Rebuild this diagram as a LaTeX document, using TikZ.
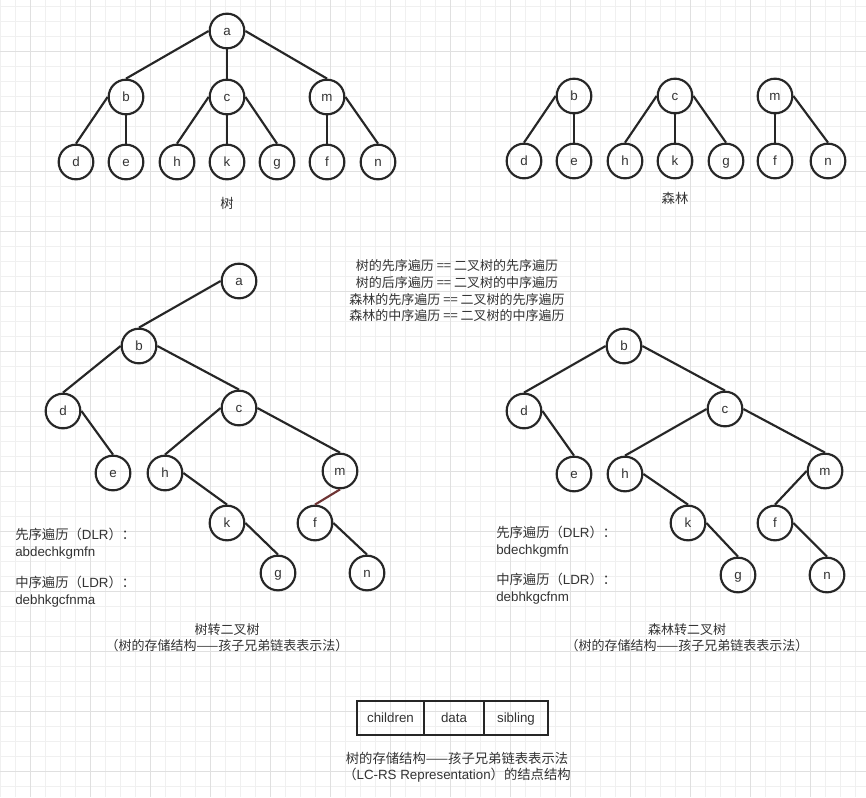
\documentclass[tikz,border=0pt]{standalone}
\usepackage{fontspec}
\setmainfont{Liberation Sans}
\newfontfamily\cjk{Noto Sans CJK SC}
\usepackage{xcolor}
\usepackage{tikz}

\definecolor{ink}{HTML}{262626}
\definecolor{txt}{HTML}{333333}
\definecolor{minorgrid}{HTML}{F0F0F0}
\definecolor{majorgrid}{HTML}{E0E0E0}
\definecolor{pick}{HTML}{6E3434}

\begin{document}
\begin{tikzpicture}[x=0.75pt, y=-0.75pt]
        \tikzstyle{place}=[circle, draw=ink, line width=1.6pt, minimum size=26pt, inner sep=0pt, text=txt, text height=8.2pt, text depth=0.8pt, font=\fontsize{10}{12}\selectfont]
        \tikzstyle{edge}=[draw=ink, line width=1.6pt]
        \tikzstyle{note}=[text=txt, inner sep=0pt, font=\fontsize{10}{12.5}\selectfont]
        \tikzstyle{cell}=[draw=ink, line width=1.6pt, minimum height=25.5pt, inner sep=0pt, text=txt, text height=8pt, text depth=1pt, font=\fontsize{10}{12}\selectfont]

        % Background grid
        \useasboundingbox (0,0) rectangle (866,797);
        \fill[white] (0,0) rectangle (866,797);
        \foreach \x in {0.5,15.5,...,855.6} \draw[minorgrid, line width=0.75pt] (\x,0) -- (\x,797);
        \foreach \y in {6.7,21.7,...,786.8} \draw[minorgrid, line width=0.75pt] (0,\y) -- (866,\y);
        \foreach \x in {30.5,90.5,...,810.6} \draw[majorgrid, line width=0.75pt] (\x,0) -- (\x,797);
        \foreach \y in {51.7,111.7,...,771.8} \draw[majorgrid, line width=0.75pt] (0,\y) -- (866,\y);

        % Tree
        \node[place] (a1) at (227,31) {a};
        \node[place] (b1) at (126,97) {b};
        \node[place] (c1) at (227,97) {c};
        \node[place] (m1) at (327,97) {m};
        \node[place] (d1) at (76,162) {d};
        \node[place] (e1) at (126,162) {e};
        \node[place] (h1) at (177,162) {h};
        \node[place] (k1) at (227,162) {k};
        \node[place] (g1) at (277,162) {g};
        \node[place] (f1) at (327,162) {f};
        \node[place] (n1) at (378,162) {n};
        \node[note, font=\cjk\fontsize{10}{12}\selectfont] (t1) at (227,203) {树};

        % Forest
        \node[place] (b2) at (574,96) {b};
        \node[place] (c2) at (675,96) {c};
        \node[place] (m2) at (775,96) {m};
        \node[place] (d2) at (524,161) {d};
        \node[place] (e2) at (574,161) {e};
        \node[place] (h2) at (625,161) {h};
        \node[place] (k2) at (675,161) {k};
        \node[place] (g2) at (726,161) {g};
        \node[place] (f2) at (775,161) {f};
        \node[place] (n2) at (828,161) {n};
        \node[note, font=\cjk\fontsize{10}{12}\selectfont] (t2) at (675,198) {森林};

        % Binary tree of the tree
        \node[place] (a3) at (239,281) {a};
        \node[place] (b3) at (139,346) {b};
        \node[place] (d3) at (63,411) {d};
        \node[place] (c3) at (239,408) {c};
        \node[place] (e3) at (113,473) {e};
        \node[place] (h3) at (165,473) {h};
        \node[place] (m3) at (340,471) {m};
        \node[place] (k3) at (227,523) {k};
        \node[place] (f3) at (315,523) {f};
        \node[place] (g3) at (278,573) {g};
        \node[place] (n3) at (367,573) {n};

        % Binary tree of the forest
        \node[place] (b4) at (624,346) {b};
        \node[place] (d4) at (524,411) {d};
        \node[place] (c4) at (725,409) {c};
        \node[place] (e4) at (574,474) {e};
        \node[place] (h4) at (625,474) {h};
        \node[place] (m4) at (825,471) {m};
        \node[place] (k4) at (688,523) {k};
        \node[place] (f4) at (775,523) {f};
        \node[place] (g4) at (738,575) {g};
        \node[place] (n4) at (827,575) {n};

        % Edges
        \draw[edge] (a1.west) -- (b1.north);
        \draw[edge] (a1.south) -- (c1.north);
        \draw[edge] (a1.east) -- (m1.north);
        \draw[edge] (b1.west) -- (d1.north);
        \draw[edge] (b1.south) -- (e1.north);
        \draw[edge] (c1.west) -- (h1.north);
        \draw[edge] (c1.south) -- (k1.north);
        \draw[edge] (c1.east) -- (g1.north);
        \draw[edge] (m1.south) -- (f1.north);
        \draw[edge] (m1.east) -- (n1.north);

        \draw[edge] (b2.west) -- (d2.north);
        \draw[edge] (b2.south) -- (e2.north);
        \draw[edge] (c2.west) -- (h2.north);
        \draw[edge] (c2.south) -- (k2.north);
        \draw[edge] (c2.east) -- (g2.north);
        \draw[edge] (m2.south) -- (f2.north);
        \draw[edge] (m2.east) -- (n2.north);

        \draw[edge] (a3.west) -- (b3.north);
        \draw[edge] (b3.west) -- (d3.north);
        \draw[edge] (b3.east) -- (c3.north);
        \draw[edge] (d3.east) -- (e3.north);
        \draw[edge] (c3.west) -- (h3.north);
        \draw[edge] (c3.east) -- (m3.north);
        \draw[edge] (h3.east) -- (k3.north);
        \draw[edge] (k3.east) -- (g3.north);
        \draw[edge, draw=pick] (m3.south) -- (f3.north);
        \draw[edge] (f3.east) -- (n3.north);

        \draw[edge] (b4.west) -- (d4.north);
        \draw[edge] (b4.east) -- (c4.north);
        \draw[edge] (d4.east) -- (e4.north);
        \draw[edge] (c4.west) -- (h4.north);
        \draw[edge] (c4.east) -- (m4.north);
        \draw[edge] (h4.east) -- (k4.north);
        \draw[edge] (k4.east) -- (g4.north);
        \draw[edge] (m4.west) -- (f4.north);
        \draw[edge] (f4.east) -- (n4.north);

        % Texts
        \node[note, align=center, font=\cjk\fontsize{9.75}{12.5}\selectfont] (rules) at (457,291)
            {树的先序遍历 == 二叉树的先序遍历\\树的后序遍历 == 二叉树的中序遍历\\森林的先序遍历 == 二叉树的先序遍历\\森林的中序遍历 == 二叉树的中序遍历};

        \node[note, anchor=west, align=left] (pre3) at (15,543.5) {{\cjk 先序遍历（}DLR{\cjk ）：}\\abdechkgmfn};
        \node[note, anchor=west, align=left] (in3) at (15,591.5) {{\cjk 中序遍历（}LDR{\cjk ）：}\\debhkgcfnma};
        \node[note, anchor=west, align=left] (pre4) at (496,541.5) {{\cjk 先序遍历（}DLR{\cjk ）：}\\bdechkgmfn};
        \node[note, anchor=west, align=left] (in4) at (496,588.5) {{\cjk 中序遍历（}LDR{\cjk ）：}\\debhkgcfnm};

        \node[note, align=center, font=\cjk\fontsize{9.75}{11.8}\selectfont] (t3) at (227,638)
            {树转二叉树\\（树的存储结构——孩子兄弟链表表示法）};
        \node[note, align=center, font=\cjk\fontsize{9.75}{11.8}\selectfont] (t4) at (687,638)
            {森林转二叉树\\（树的存储结构——孩子兄弟链表表示法）};

        % Node structure
        \node[cell, minimum width=50.25pt] (ch) at (390.5,718) {children};
        \node[cell, minimum width=45pt] (dt) at (454,718) {data};
        \node[cell, minimum width=48pt] (sb) at (516,718) {sibling};
        \node[note, align=center, font=\fontsize{10}{11.8}\selectfont] (t5) at (457,767)
            {{\cjk 树的存储结构——孩子兄弟链表表示法}\\{\cjk （}LC-RS Representation{\cjk ）的结点结构}};
    \end{tikzpicture}
\end{document}
